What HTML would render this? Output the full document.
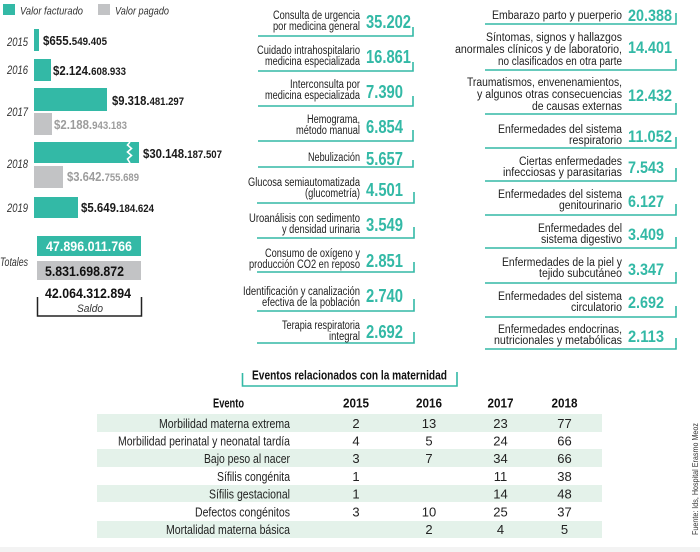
<!DOCTYPE html>
<html><head><meta charset="utf-8"><style>
html,body{margin:0;padding:0;background:#fff;}
svg{display:block;}
text{font-family:"Liberation Sans","DejaVu Sans",sans-serif;}
.lb{font-size:11.5px;fill:#222;}
.it{font-style:italic;font-size:11px;fill:#333;}
.yr{font-style:italic;font-size:12px;fill:#333;}
.nm{font-weight:bold;font-size:18px;fill:#33b9a6;}
.nr{font-weight:bold;font-size:17px;fill:#33b9a6;}
.dv{font-weight:bold;fill:#1a1a1a;}
.dg{font-weight:bold;fill:#9c9c9c;}
.tb{font-size:13px;fill:#222;}
.th{font-size:13px;font-weight:bold;fill:#111;}
</style></head><body>
<svg width="700" height="552" viewBox="0 0 700 552" xmlns="http://www.w3.org/2000/svg">
<rect x="0" y="547" width="700" height="5" fill="#f3f3f3"/>
<!-- Legend -->
<rect x="3" y="4" width="12" height="11" fill="#33b9a6"/>
<text class="it" x="20" y="14.5" textLength="63" lengthAdjust="spacingAndGlyphs">Valor facturado</text>
<rect x="98" y="4" width="12" height="11" fill="#c2c3c5"/>
<text class="it" x="115" y="14.5" textLength="54" lengthAdjust="spacingAndGlyphs">Valor pagado</text>

<!-- Years -->
<text class="yr" x="7" y="46" textLength="21" lengthAdjust="spacingAndGlyphs">2015</text>
<text class="yr" x="7" y="74" textLength="21" lengthAdjust="spacingAndGlyphs">2016</text>
<text class="yr" x="7" y="116" textLength="21" lengthAdjust="spacingAndGlyphs">2017</text>
<text class="yr" x="7" y="168" textLength="21" lengthAdjust="spacingAndGlyphs">2018</text>
<text class="yr" x="7" y="212" textLength="21" lengthAdjust="spacingAndGlyphs">2019</text>
<text class="yr" x="0" y="266" textLength="28" lengthAdjust="spacingAndGlyphs">Totales</text>

<!-- Bars -->
<rect x="34" y="29" width="5" height="22" fill="#33b9a6"/>
<rect x="34" y="59" width="17" height="22" fill="#33b9a6"/>
<rect x="34" y="88" width="73" height="23" fill="#33b9a6"/>
<rect x="34" y="113" width="18" height="22" fill="#c2c3c5"/>
<rect x="34" y="142" width="105" height="21" fill="#33b9a6"/>
<path d="M130,142 L127.5,145 L131.5,148.5 L127.5,152 L131.5,155.5 L127.5,159 L130,163" stroke="#fff" stroke-width="1.6" fill="none"/>
<rect x="34" y="166" width="29" height="22" fill="#c2c3c5"/>
<rect x="34" y="197" width="44" height="21" fill="#33b9a6"/>

<!-- Values -->
<text class="dv" x="43" y="45" textLength="64" lengthAdjust="spacingAndGlyphs"><tspan font-size="13">$655.</tspan><tspan font-size="11">549.405</tspan></text>
<text class="dv" x="53" y="75" textLength="73" lengthAdjust="spacingAndGlyphs"><tspan font-size="13">$2.124.</tspan><tspan font-size="11">608.933</tspan></text>
<text class="dv" x="112" y="105" textLength="72" lengthAdjust="spacingAndGlyphs"><tspan font-size="13">$9.318.</tspan><tspan font-size="11">481.297</tspan></text>
<text class="dg" x="54" y="129" textLength="73" lengthAdjust="spacingAndGlyphs"><tspan font-size="13">$2.188.</tspan><tspan font-size="11">943.183</tspan></text>
<text class="dv" x="143" y="158" textLength="79" lengthAdjust="spacingAndGlyphs"><tspan font-size="13">$30.148.</tspan><tspan font-size="11">187.507</tspan></text>
<text class="dg" x="67" y="181" textLength="72" lengthAdjust="spacingAndGlyphs"><tspan font-size="13">$3.642.</tspan><tspan font-size="11">755.689</tspan></text>
<text class="dv" x="81" y="212" textLength="73" lengthAdjust="spacingAndGlyphs"><tspan font-size="13">$5.649.</tspan><tspan font-size="11">184.624</tspan></text>

<!-- Totals -->
<rect x="37" y="236" width="104" height="20" fill="#33b9a6"/>
<text x="46" y="251" font-size="14" font-weight="bold" fill="#fff" textLength="86" lengthAdjust="spacingAndGlyphs">47.896.011.766</text>
<rect x="37" y="261" width="104" height="19" fill="#c2c3c5"/>
<text x="45" y="276" font-size="14" font-weight="bold" fill="#111" textLength="79" lengthAdjust="spacingAndGlyphs">5.831.698.872</text>
<text x="45" y="298" font-size="14" font-weight="bold" fill="#111" textLength="86" lengthAdjust="spacingAndGlyphs">42.064.312.894</text>
<path d="M37.5,297 V316 H141.5 V297" stroke="#222" stroke-width="1.5" fill="none"/>
<text class="it" x="77" y="312" textLength="26" lengthAdjust="spacingAndGlyphs">Saldo</text>

<!-- Middle column -->
<g stroke="#33b9a6" stroke-width="1.6" fill="none">
<path d="M258,36 H413 V27"/>
<path d="M258,71 H413 V62"/>
<path d="M258,106 H413 V96"/>
<path d="M258,141 H413 V130"/>
<path d="M258,167 H413 V160"/>
<path d="M257,203 H414 V192"/>
<path d="M257,238 H414 V227"/>
<path d="M257,272 H414 V262"/>
<path d="M257,311 H414 V299"/>
<path d="M257,343 H414 V332"/>
</g>
<g text-anchor="end">
<text class="lb" x="360" y="19" textLength="87" lengthAdjust="spacingAndGlyphs">Consulta de urgencia</text>
<text class="lb" x="360" y="30" textLength="87" lengthAdjust="spacingAndGlyphs">por medicina general</text>
<text class="lb" x="360" y="54" textLength="103" lengthAdjust="spacingAndGlyphs">Cuidado intrahospitalario</text>
<text class="lb" x="360" y="65" textLength="95" lengthAdjust="spacingAndGlyphs">medicina especializada</text>
<text class="lb" x="360" y="88" textLength="70" lengthAdjust="spacingAndGlyphs">Interconsulta por</text>
<text class="lb" x="360" y="99" textLength="95" lengthAdjust="spacingAndGlyphs">medicina especializada</text>
<text class="lb" x="360" y="123" textLength="53" lengthAdjust="spacingAndGlyphs">Hemograma,</text>
<text class="lb" x="360" y="134" textLength="64" lengthAdjust="spacingAndGlyphs">método manual</text>
<text class="lb" x="360" y="161" textLength="52" lengthAdjust="spacingAndGlyphs">Nebulización</text>
<text class="lb" x="360" y="186" textLength="112" lengthAdjust="spacingAndGlyphs">Glucosa semiautomatizada</text>
<text class="lb" x="360" y="197" textLength="55" lengthAdjust="spacingAndGlyphs">(glucometría)</text>
<text class="lb" x="360" y="222" textLength="111" lengthAdjust="spacingAndGlyphs">Uroanálisis con sedimento</text>
<text class="lb" x="360" y="233" textLength="78" lengthAdjust="spacingAndGlyphs">y densidad urinaria</text>
<text class="lb" x="360" y="257" textLength="95" lengthAdjust="spacingAndGlyphs">Consumo de oxígeno y</text>
<text class="lb" x="360" y="268" textLength="111" lengthAdjust="spacingAndGlyphs">producción CO2 en reposo</text>
<text class="lb" x="360" y="295" textLength="117" lengthAdjust="spacingAndGlyphs">Identificación y canalización</text>
<text class="lb" x="360" y="306" textLength="98" lengthAdjust="spacingAndGlyphs">efectiva de la población</text>
<text class="lb" x="360" y="329" textLength="78" lengthAdjust="spacingAndGlyphs">Terapia respiratoria</text>
<text class="lb" x="360" y="340" textLength="31" lengthAdjust="spacingAndGlyphs">integral</text>
</g>
<text class="nm" x="366" y="28" textLength="45" lengthAdjust="spacingAndGlyphs">35.202</text>
<text class="nm" x="366" y="63" textLength="45" lengthAdjust="spacingAndGlyphs">16.861</text>
<text class="nm" x="366" y="98" textLength="37" lengthAdjust="spacingAndGlyphs">7.390</text>
<text class="nm" x="366" y="133" textLength="37" lengthAdjust="spacingAndGlyphs">6.854</text>
<text class="nm" x="366" y="165" textLength="37" lengthAdjust="spacingAndGlyphs">5.657</text>
<text class="nm" x="366" y="196" textLength="37" lengthAdjust="spacingAndGlyphs">4.501</text>
<text class="nm" x="366" y="231" textLength="37" lengthAdjust="spacingAndGlyphs">3.549</text>
<text class="nm" x="366" y="267" textLength="37" lengthAdjust="spacingAndGlyphs">2.851</text>
<text class="nm" x="366" y="302" textLength="37" lengthAdjust="spacingAndGlyphs">2.740</text>
<text class="nm" x="366" y="338" textLength="37" lengthAdjust="spacingAndGlyphs">2.692</text>

<!-- Right column -->
<g stroke="#33b9a6" stroke-width="1.6" fill="none">
<path d="M485,24 H676 V13"/>
<path d="M485,70 H676 V59"/>
<path d="M485,114 H676 V103"/>
<path d="M485,148 H676 V137"/>
<path d="M485,181 H676 V168"/>
<path d="M485,215 H676 V204"/>
<path d="M485,248 H676 V237"/>
<path d="M485,283 H676 V272"/>
<path d="M485,317 H676 V306"/>
<path d="M485,349 H676 V338"/>
</g>
<g text-anchor="end">
<text class="lb" x="622" y="19" textLength="130" lengthAdjust="spacingAndGlyphs">Embarazo parto y puerperio</text>
<text class="lb" x="622" y="41" textLength="136" lengthAdjust="spacingAndGlyphs">Síntomas, signos y hallazgos</text>
<text class="lb" x="622" y="53" textLength="167" lengthAdjust="spacingAndGlyphs">anormales clínicos y de laboratorio,</text>
<text class="lb" x="622" y="65" textLength="124" lengthAdjust="spacingAndGlyphs">no clasificados en otra parte</text>
<text class="lb" x="622" y="86" textLength="155" lengthAdjust="spacingAndGlyphs">Traumatismos, envenenamientos,</text>
<text class="lb" x="622" y="98" textLength="145" lengthAdjust="spacingAndGlyphs">y algunos otras consecuencias</text>
<text class="lb" x="622" y="110" textLength="90" lengthAdjust="spacingAndGlyphs">de causas externas</text>
<text class="lb" x="622" y="133" textLength="124" lengthAdjust="spacingAndGlyphs">Enfermedades del sistema</text>
<text class="lb" x="622" y="144" textLength="53" lengthAdjust="spacingAndGlyphs">respiratorio</text>
<text class="lb" x="622" y="165" textLength="103" lengthAdjust="spacingAndGlyphs">Ciertas enfermedades</text>
<text class="lb" x="622" y="176" textLength="119" lengthAdjust="spacingAndGlyphs">infecciosas y parasitarias</text>
<text class="lb" x="622" y="198" textLength="124" lengthAdjust="spacingAndGlyphs">Enfermedades del sistema</text>
<text class="lb" x="622" y="209" textLength="63" lengthAdjust="spacingAndGlyphs">genitourinario</text>
<text class="lb" x="622" y="232" textLength="84" lengthAdjust="spacingAndGlyphs">Enfermedades del</text>
<text class="lb" x="622" y="243" textLength="81" lengthAdjust="spacingAndGlyphs">sistema digestivo</text>
<text class="lb" x="622" y="266" textLength="120" lengthAdjust="spacingAndGlyphs">Enfermedades de la piel y</text>
<text class="lb" x="622" y="277" textLength="83" lengthAdjust="spacingAndGlyphs">tejido subcutáneo</text>
<text class="lb" x="622" y="300" textLength="124" lengthAdjust="spacingAndGlyphs">Enfermedades del sistema</text>
<text class="lb" x="622" y="311" textLength="51" lengthAdjust="spacingAndGlyphs">circulatorio</text>
<text class="lb" x="622" y="333" textLength="124" lengthAdjust="spacingAndGlyphs">Enfermedades endocrinas,</text>
<text class="lb" x="622" y="344" textLength="128" lengthAdjust="spacingAndGlyphs">nutricionales y metabólicas</text>
</g>
<text class="nr" x="628" y="21" textLength="44" lengthAdjust="spacingAndGlyphs">20.388</text>
<text class="nr" x="628" y="53" textLength="44" lengthAdjust="spacingAndGlyphs">14.401</text>
<text class="nr" x="628" y="101" textLength="44" lengthAdjust="spacingAndGlyphs">12.432</text>
<text class="nr" x="628" y="142" textLength="44" lengthAdjust="spacingAndGlyphs">11.052</text>
<text class="nr" x="628" y="173" textLength="36" lengthAdjust="spacingAndGlyphs">7.543</text>
<text class="nr" x="628" y="207" textLength="36" lengthAdjust="spacingAndGlyphs">6.127</text>
<text class="nr" x="628" y="240" textLength="36" lengthAdjust="spacingAndGlyphs">3.409</text>
<text class="nr" x="628" y="275" textLength="36" lengthAdjust="spacingAndGlyphs">3.347</text>
<text class="nr" x="628" y="308" textLength="36" lengthAdjust="spacingAndGlyphs">2.692</text>
<text class="nr" x="628" y="342" textLength="36" lengthAdjust="spacingAndGlyphs">2.113</text>

<!-- Table title -->
<path d="M242.5,373 V386 H457 V372" stroke="#33b9a6" stroke-width="1.6" fill="none"/>
<text x="252" y="379.5" font-size="12.5" font-weight="bold" fill="#111" textLength="195" lengthAdjust="spacingAndGlyphs">Eventos relacionados con la maternidad</text>

<!-- Table bands -->
<g fill="#e4f2ea">
<rect x="97" y="414" width="505" height="18"/>
<rect x="97" y="449" width="505" height="18"/>
<rect x="97" y="485" width="505" height="17"/>
<rect x="97" y="521" width="505" height="17"/>
</g>

<!-- Header -->
<text class="th" x="228.5" y="407.5" text-anchor="middle" textLength="31" lengthAdjust="spacingAndGlyphs">Evento</text>
<g text-anchor="middle">
<text class="th" x="356" y="407.5" textLength="26" lengthAdjust="spacingAndGlyphs">2015</text>
<text class="th" x="429" y="407.5" textLength="26" lengthAdjust="spacingAndGlyphs">2016</text>
<text class="th" x="500.5" y="407.5" textLength="26" lengthAdjust="spacingAndGlyphs">2017</text>
<text class="th" x="564.5" y="407.5" textLength="26" lengthAdjust="spacingAndGlyphs">2018</text>
</g>

<!-- Rows -->
<g text-anchor="end">
<text class="tb" x="290" y="428" textLength="131" lengthAdjust="spacingAndGlyphs">Morbilidad materna extrema</text>
<text class="tb" x="290" y="445.5" textLength="172" lengthAdjust="spacingAndGlyphs">Morbilidad perinatal y neonatal tardía</text>
<text class="tb" x="290" y="463" textLength="86" lengthAdjust="spacingAndGlyphs">Bajo peso al nacer</text>
<text class="tb" x="290" y="481" textLength="73" lengthAdjust="spacingAndGlyphs">Sífilis congénita</text>
<text class="tb" x="290" y="498.5" textLength="81" lengthAdjust="spacingAndGlyphs">Sífilis gestacional</text>
<text class="tb" x="290" y="516.5" textLength="95" lengthAdjust="spacingAndGlyphs">Defectos congénitos</text>
<text class="tb" x="290" y="534" textLength="124" lengthAdjust="spacingAndGlyphs">Mortalidad materna básica</text>
</g>
<g text-anchor="middle">
<text class="tb" x="356" y="428">2</text><text class="tb" x="429" y="428">13</text><text class="tb" x="500.5" y="428">23</text><text class="tb" x="564.5" y="428">77</text>
<text class="tb" x="356" y="445.5">4</text><text class="tb" x="429" y="445.5">5</text><text class="tb" x="500.5" y="445.5">24</text><text class="tb" x="564.5" y="445.5">66</text>
<text class="tb" x="356" y="463">3</text><text class="tb" x="429" y="463">7</text><text class="tb" x="500.5" y="463">34</text><text class="tb" x="564.5" y="463">66</text>
<text class="tb" x="356" y="481">1</text><text class="tb" x="500.5" y="481">11</text><text class="tb" x="564.5" y="481">38</text>
<text class="tb" x="356" y="498.5">1</text><text class="tb" x="500.5" y="498.5">14</text><text class="tb" x="564.5" y="498.5">48</text>
<text class="tb" x="356" y="516.5">3</text><text class="tb" x="429" y="516.5">10</text><text class="tb" x="500.5" y="516.5">25</text><text class="tb" x="564.5" y="516.5">37</text>
<text class="tb" x="429" y="534">2</text><text class="tb" x="500.5" y="534">4</text><text class="tb" x="564.5" y="534">5</text>
</g>

<!-- Source -->
<text x="0" y="0" font-size="8.5" fill="#333" transform="translate(698,535) rotate(-90)" textLength="112" lengthAdjust="spacingAndGlyphs">Fuente: Ids, Hospital Erasmo Meoz</text>
</svg>
</body></html>
